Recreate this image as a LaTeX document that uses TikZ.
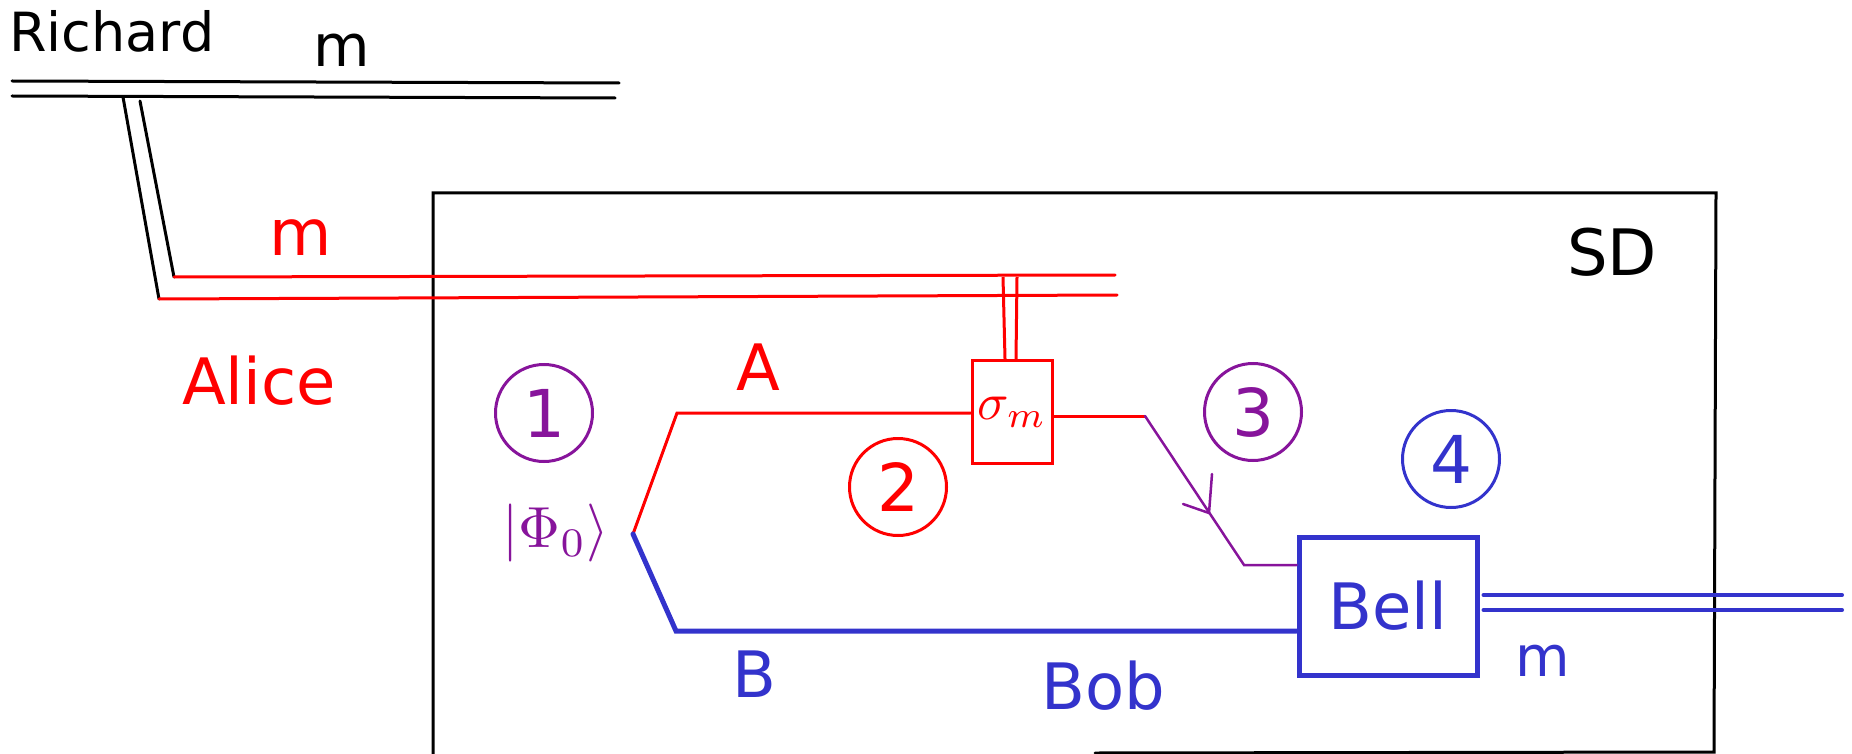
\documentclass[tikz,border=0pt]{standalone}
\usepackage{graphicx}
\usepackage{fontspec}
\setmainfont{DejaVu Sans}
\definecolor{cred}{RGB}{255,0,0}
\definecolor{cpurple}{RGB}{135,20,155}
\definecolor{cblue}{RGB}{51,51,204}
\begin{document}
\begin{tikzpicture}[x=1pt,y=-1pt,
  txt/.style={inner sep=0pt, anchor=base, font=\fontsize{64}{70}\selectfont},
  numc/.style={circle, draw, line width=3pt, minimum size=97pt, inner sep=0pt, font=\fontsize{66}{70}\selectfont},
  wire/.style={line width=3pt, line cap=round},
  bwire/.style={line width=5pt, line cap=round, color=cblue},
  pwire/.style={line width=2.5pt, line cap=round, color=cpurple}]
\useasboundingbox (0,0) rectangle (1852,754);

% texts
\node[txt, anchor=base west, font=\fontsize{54}{60}\selectfont] (richard) at (9,52) {Richard};
\node[txt, font=\fontsize{58}{60}\selectfont] (mblack) at (342,67) {m};
\node[txt, text=cred] (mred) at (301,255) {m};
\node[txt, text=cred] (alice) at (259,404) {Alice};
\node[txt] (sd) at (1612,275) {SD};
\node[txt, text=cred] (labA) at (758,390) {A};
\node[txt, text=cblue] (labB) at (754,697) {B};
\node[txt, text=cblue] (bob) at (1103,709) {Bob};
\node[txt, text=cblue, font=\fontsize{56}{60}\selectfont] (mblue) at (1543,676) {m};
\node[inner sep=0pt, text=cpurple] (phi) at (556,533) {\scalebox{5.8}{$|\Phi_0\rangle$}};

% numbered circles
\node[numc, draw=cpurple, text=cpurple] (n1) at (544,413) {1};
\node[numc, draw=cred, text=cred] (n2) at (898,487) {2};
\node[numc, draw=cpurple, text=cpurple] (n3) at (1253,412) {3};
\node[numc, draw=cblue, text=cblue] (n4) at (1451,459) {4};

% boxes
\node[draw=cred, line width=3pt, minimum width=80pt, minimum height=103pt, inner sep=0pt, text=cred] (sigma) at (1012,412) {\scalebox{5.2}{$\sigma_m$}};
\node[draw=cblue, line width=5pt, minimum width=178pt, minimum height=138pt, inner sep=0pt, text=cblue, font=\fontsize{64}{70}\selectfont] (bell) at (1388,606) {Bell};

% SD frame
\coordinate (sdtl) at (433,193);
\coordinate (sdtr) at (1716,193);
\coordinate (sdbr) at (1714,752);
\coordinate (sdbl) at (433,754);
\coordinate (sdbm) at (1095,753);
\draw[wire] (sdbl) -- (sdtl) -- (sdtr) -- (sdbr) -- (sdbm);

% Richard double line
\coordinate (r1a) at (12,81); \coordinate (r1b) at (619,83);
\coordinate (r2a) at (12,96); \coordinate (r2b) at (615,98);
\draw[wire] (r1a) -- (r1b);
\draw[wire] (r2a) -- (r2b);
% down to Alice
\coordinate (d1a) at (123,97); \coordinate (d1b) at (159,299);
\coordinate (d2a) at (140,101); \coordinate (d2b) at (174,277);
\draw[wire] (d1a) -- (d1b);
\draw[wire] (d2a) -- (d2b);
% red double line
\coordinate (a1b) at (1115,275);
\coordinate (a2b) at (1117,295);
\draw[wire, cred] (d2b) -- (a1b);
\draw[wire, cred] (d1b) -- (a2b);
% into sigma box
\draw[wire, cred, line cap=butt] (1003,277) -- (sigma.north -| 1005,0);
\draw[wire, cred, line cap=butt] (1017,277) -- (sigma.north -| 1016,0);

% paths
\coordinate (src) at (633,534);
\coordinate (acorner) at (677,413);
\coordinate (bcorner) at (676,631);
\coordinate (pcorner) at (1145,416);
\coordinate (pbend) at (1244,565);
\coordinate (tip) at (1209,513);
\draw[wire, cred] (src) -- (acorner) -- (acorner -| sigma.west);
\draw[wire, cred] (sigma.east |- 0,416) -- (pcorner);
\draw[pwire] (pcorner) -- (pbend) -- (pbend -| bell.west);
\draw[pwire] (tip) -- ++(3,-39);
\draw[pwire] (tip) -- ++(-26,-9);
\draw[bwire] (src) -- (bcorner) -- (bcorner -| bell.west);

% output double line
\coordinate (o1) at (1842,595);
\coordinate (o2) at (1842,610);
\draw[bwire, line width=4pt] (bell.east |- o1) ++(4,0) -- (o1);
\draw[bwire, line width=4pt] (bell.east |- o2) ++(4,0) -- (o2);
\end{tikzpicture}
\end{document}
